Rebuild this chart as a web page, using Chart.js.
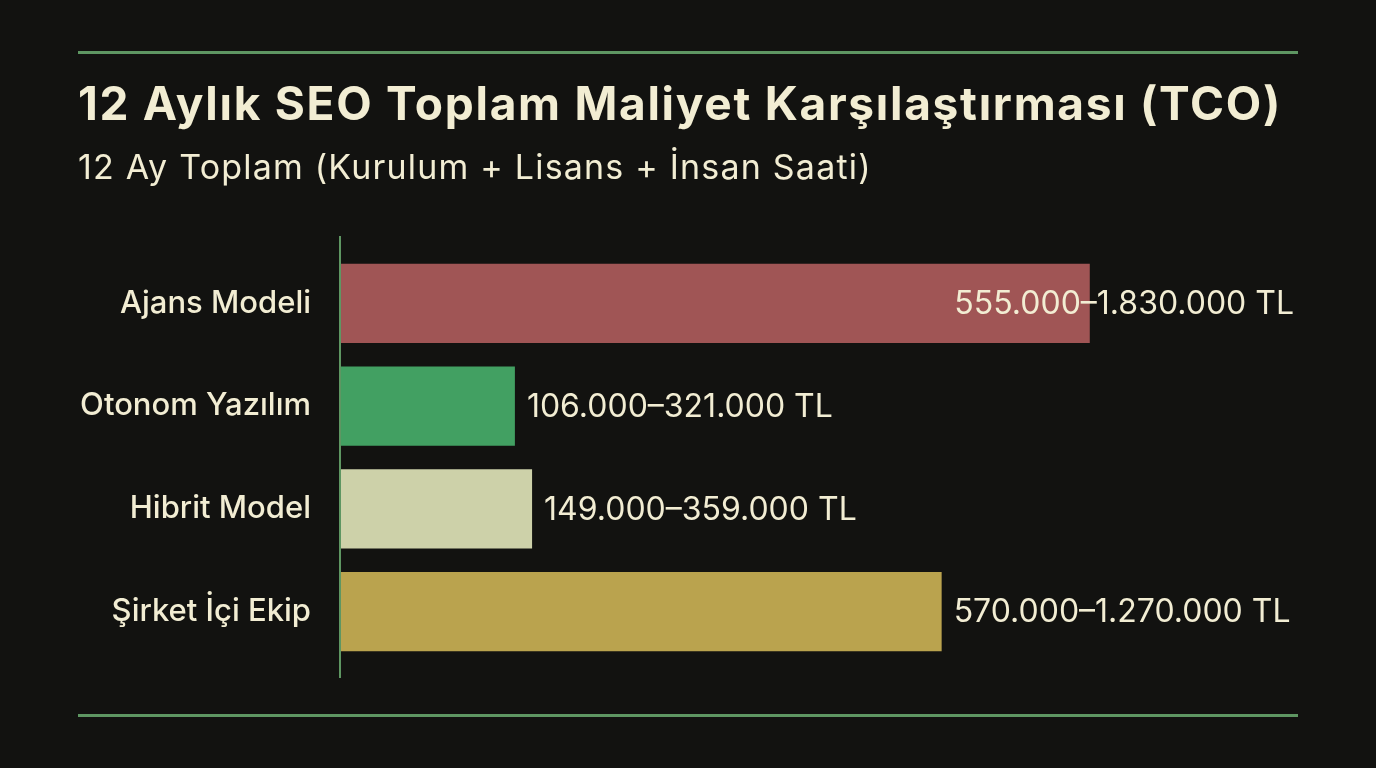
<!DOCTYPE html>
<html>
<head>
<meta charset="utf-8">
<script src="https://cdn.jsdelivr.net/npm/chart.js@4.4.1/dist/chart.umd.min.js"></script>
<style>
html,body{margin:0;padding:0;background:#121210;overflow:hidden;}
#wrap{position:relative;width:1376px;height:768px;}
#tco_chart{position:absolute;left:0;top:0;}
.head{position:absolute;left:78px;margin:0;white-space:nowrap;color:#f2edd3;font-family:Inter,"Noto Sans",sans-serif;}
#title{top:75px;font-size:46px;font-weight:700;}
#subtitle{top:146px;font-size:34px;font-weight:400;}
</style>
</head>
<body>
<div id="wrap">
<canvas id="tco_chart" width="1376" height="768"></canvas>
<h1 id="title" class="head" data-w="1204">12 Aylık SEO Toplam Maliyet Karşılaştırması (TCO)</h1>
<h2 id="subtitle" class="head" data-w="794">12 Ay Toplam (Kurulum + Lisans + İnsan Saati)</h2>
</div>
<script>
// categories and labels as printed on the picture
var categories = ['Ajans Modeli', 'Otonom Yazılım', 'Hibrit Model', 'Şirket İçi Ekip'];
var range_labels = ['555.000–1.830.000 TL', '106.000–321.000 TL', '149.000–359.000 TL', '570.000–1.270.000 TL'];
// bar lengths, thousand TL
var bar_values = [1830, 425, 467, 1468];
var bar_colors = ['#a05555', '#42a062', '#cdd1a9', '#baa34e'];

var LINE_GREEN = '#5e9662';
var TEXT = '#f2edd3';

// stretch heading text to the width it has in the picture
function fit_heads(){
	var heads = document.querySelectorAll('.head');
	for(var i=0;i<heads.length;i++){
		var h = heads[i];
		var target = parseFloat(h.getAttribute('data-w'));
		var w = h.getBoundingClientRect().width;
		var n = h.textContent.length;
		h.style.letterSpacing = ((target - w) / n).toFixed(2) + 'px';
	}
}

var frame_plugin = {
	id: 'frame',
	beforeDraw: function(chart){
		var ctx = chart.ctx;
		ctx.save();
		ctx.strokeStyle = LINE_GREEN;
		ctx.lineWidth = 3;
		ctx.beginPath();
		ctx.moveTo(78, 52.5); ctx.lineTo(1298, 52.5);
		ctx.moveTo(78, 715.5); ctx.lineTo(1298, 715.5);
		ctx.stroke();
		ctx.restore();
	},
	afterDatasetsDraw: function(chart){
		var ctx = chart.ctx;
		var area = chart.chartArea;
		ctx.save();
		ctx.strokeStyle = LINE_GREEN;
		ctx.lineWidth = 2;
		ctx.beginPath();
		ctx.moveTo(area.left - 1, area.top - 16);
		ctx.lineTo(area.left - 1, area.bottom + 15);
		ctx.stroke();

		// value labels
		var meta = chart.getDatasetMeta(0);
		ctx.font = '400 32px Inter, "Noto Sans", sans-serif';
		ctx.fillStyle = TEXT;
		ctx.textBaseline = 'middle';
		ctx.textAlign = 'left';
		for(var i=0;i<meta.data.length;i++){
			var bar = meta.data[i];
			var txt = range_labels[i];
			var w = ctx.measureText(txt).width;
			var x = bar.x + 12;
			if(x + w > 1294){
				x = 1294 - w;
			}
			ctx.fillText(txt, x, bar.y + 1);
		}
		ctx.restore();
	}
};

function draw_chart(){
	var ctx = document.getElementById('tco_chart').getContext('2d');

	var dataset = {};
	dataset.data = bar_values;
	dataset.backgroundColor = bar_colors;
	dataset.borderWidth = 0;
	dataset.barPercentage = 0.77;
	dataset.categoryPercentage = 1.0;

	var params = {};
	params.type = 'bar';
	params.data = {labels: categories, datasets: [dataset]};
	params.plugins = [frame_plugin];
	params.options = {
		indexAxis: 'y',
		responsive: false,
		animation: false,
		layout: {padding: {top: 252, bottom: 105, left: 0, right: 53}},
		plugins: {legend: {display: false}, tooltip: {enabled: false}},
		scales: {
			x: {display: false, min: 0, max: 2400},
			y: {
				grid: {display: false, drawTicks: false},
				border: {display: false},
				afterFit: function(scale){ scale.width = 341; },
				ticks: {
					color: TEXT,
					padding: 30,
					font: {family: 'Inter, "Noto Sans", sans-serif', size: 31, weight: '500'}
				}
			}
		}
	};
	new Chart(ctx, params);
}

fit_heads();
draw_chart();
</script>
</body>
</html>
